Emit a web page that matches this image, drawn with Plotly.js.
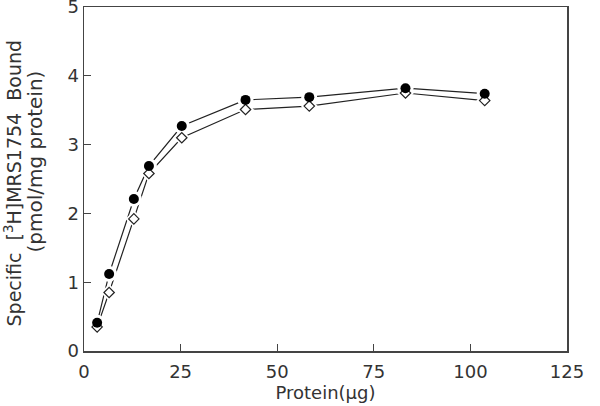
<!DOCTYPE html>
<html>
<head>
<meta charset="utf-8">
<script src="https://cdn.plot.ly/plotly-3.0.1.min.js"></script>
<style>
html,body{margin:0;padding:0;background:#fff}
#chart .annotation:nth-of-type(1) .annotation-text{letter-spacing:0.6px}
#chart .annotation:nth-of-type(2) .annotation-text{letter-spacing:2px}
</style>
</head>
<body>
<div id="chart" style="width:600px;height:406px"></div>
<script>
// Data
var protein = [3.4, 6.5, 12.9, 16.8, 25.3, 41.8, 58.3, 83.2, 103.7];
var totalBound = [0.41, 1.12, 2.21, 2.69, 3.27, 3.65, 3.69, 3.82, 3.74];   // filled circles
var specificBound = [0.35, 0.85, 1.92, 2.58, 3.10, 3.51, 3.56, 3.75, 3.64]; // open diamonds
var xTicks = [0, 25, 50, 75, 100, 125];
var yTicks = [0, 1, 2, 3, 4, 5];

var ink = '#222';
var font = {family: 'DejaVu Sans', size: 18, color: '#333'};

var traces = [
  {x: protein, y: specificBound, mode: 'lines', line: {color: ink, width: 1.2}, hoverinfo: 'skip', showlegend: false},
  {x: protein, y: totalBound, mode: 'lines', line: {color: ink, width: 1.2}, hoverinfo: 'skip', showlegend: false},
  {x: protein, y: specificBound, mode: 'markers', marker: {symbol: 'diamond', size: 13, color: '#fff', line: {width: 0}}, hoverinfo: 'skip', showlegend: false},
  {x: protein, y: totalBound, mode: 'markers', marker: {symbol: 'circle', size: 16, color: '#fff', line: {width: 0}}, hoverinfo: 'skip', showlegend: false},
  {x: protein, y: specificBound, mode: 'markers', marker: {symbol: 'diamond', size: 8, color: '#fff', line: {color: ink, width: 1.2}}, showlegend: false},
  {x: protein, y: totalBound, mode: 'markers', marker: {symbol: 'circle', size: 10, color: '#000', line: {width: 0}}, showlegend: false}
];

var layout = {
  width: 600, height: 406,
  margin: {l: 84, r: 33, t: 7, b: 55},
  paper_bgcolor: '#fff', plot_bgcolor: '#fff',
  font: font,
  showlegend: false,
  xaxis: {
    range: [0, 125], tickvals: xTicks, ticktext: xTicks.map(String),
    ticks: 'inside', ticklen: 7, tickwidth: 1.2, tickcolor: '#444',
    showline: true, linecolor: '#444', linewidth: 1.5, mirror: true,
    showgrid: false, zeroline: false,
    ticklabelstandoff: 4, ticklabeloverflow: 'allow',
    title: {text: 'Protein(µg)', font: font, standoff: 4}
  },
  yaxis: {
    range: [0, 5], tickvals: yTicks, ticktext: yTicks.map(String),
    ticks: 'inside', ticklen: 7, tickwidth: 1.2, tickcolor: '#444',
    showline: true, linecolor: '#444', linewidth: 1.5, mirror: true,
    showgrid: false, zeroline: false, ticklabeloverflow: 'allow'
  },
  annotations: [
    {text: 'Specific  [<sup>3</sup>H]MRS1754  Bound', xref: 'paper', yref: 'paper',
     x: -0.147, y: 0.49, xanchor: 'center', yanchor: 'middle', textangle: -90,
     showarrow: false, font: {family: 'DejaVu Sans', size: 19, color: '#333'}},
    {text: '(pmol/mg protein)', xref: 'paper', yref: 'paper',
     x: -0.102, y: 0.55, xanchor: 'center', yanchor: 'middle', textangle: -90,
     showarrow: false, font: {family: 'DejaVu Sans', size: 20, color: '#333'}}
  ]
};

Plotly.newPlot('chart', traces, layout, {staticPlot: true, displayModeBar: false});
</script>
</body>
</html>
